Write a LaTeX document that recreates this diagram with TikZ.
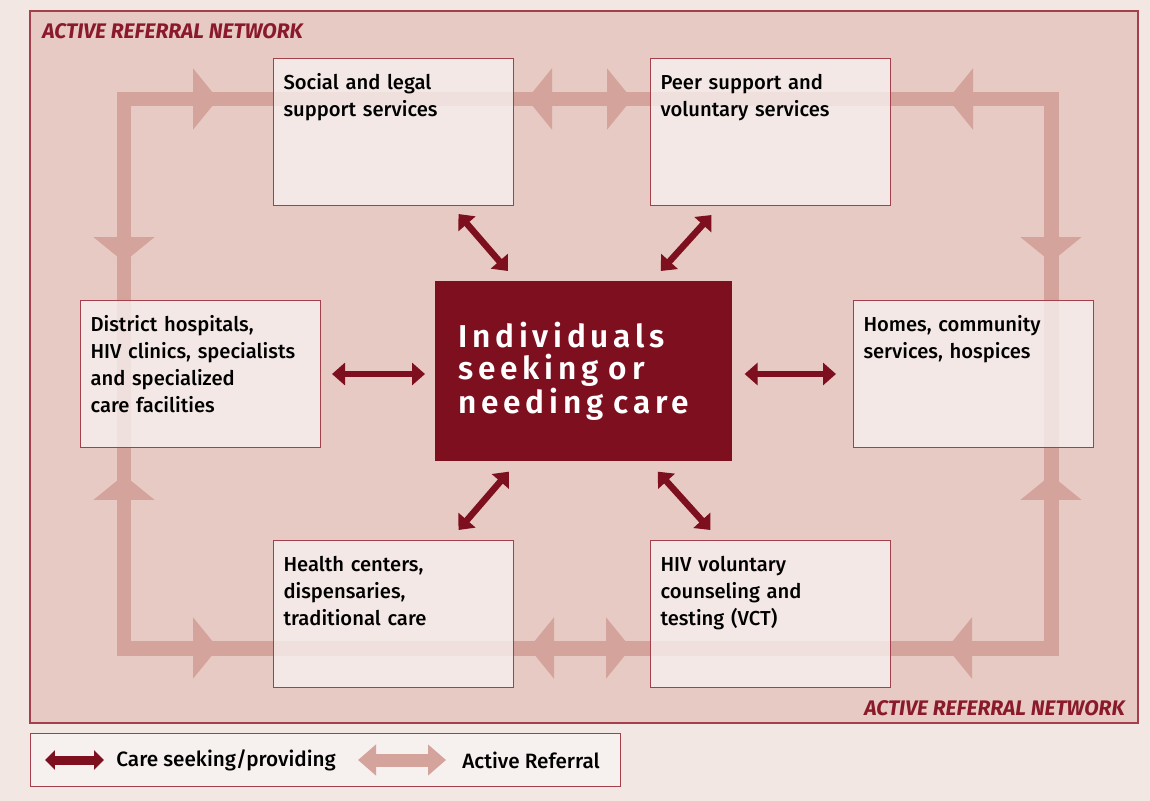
\documentclass[tikz,border=0pt]{standalone}
\usepackage{fontspec}
\setmainfont{Fira Sans Medium}
\newfontfamily\hubfont{Fira Sans SemiBold}[LetterSpace=15, WordSpace=3]
\newfontfamily\tagfont{Fira Sans}
\usepackage{xcolor}
\definecolor{outer-bg}{HTML}{F3E7E4}
\definecolor{inner-bg}{HTML}{E7CAC3}
\definecolor{pale-red}{HTML}{D4A39B}
\definecolor{box-fill}{HTML}{F6F0EE}
\definecolor{box-line}{HTML}{A4404C}
\definecolor{dark-red}{HTML}{7D0F1E}
\definecolor{tag-red}{HTML}{8A1A2B}
\usepackage{tikz}
\usetikzlibrary{arrows.meta}
\usetikzlibrary{calc}
\tikzset{svc/.style = {draw=box-line, line width=0.6pt, fill=box-fill, fill opacity=0.8, text opacity=1, anchor=north west, minimum width=4.8cm, minimum height=2.94cm, text width=4.4cm, align=left, inner xsep=0.2cm, inner ysep=0.24cm, text height=0.38cm, text depth=2.08cm, font=\fontsize{11.5}{15.3}\selectfont}}
\tikzset{hub/.style = {fill=dark-red, text=white, anchor=north west, minimum width=5.94cm, minimum height=3.6cm, text width=5.02cm, align=left, inner xsep=0.46cm, font=\hubfont\fontsize{18}{17.8}\selectfont}}
\tikzset{tag/.style = {text=tag-red, inner sep=0pt, font=\tagfont\bfseries\itshape\fontsize{12}{14}\selectfont}}
\tikzset{legtext/.style = {inner sep=0pt, anchor=west, font=\fontsize{11.8}{14}\selectfont}}
\tikzset{care/.style = {draw=dark-red, line width=0.13cm, <->, >={Triangle[length=0.26cm,width=0.44cm]}}}
\tikzset{refline/.style = {draw=pale-red, line width=0.3cm, line join=miter}}
\tikzset{refhead/.style = {draw=pale-red, line width=0.3cm, -{Triangle[length=0.5cm,width=1.2cm]}}}

\begin{document}
\begin{tikzpicture}[x=0.02cm, y=-0.02cm]

\fill[outer-bg] (0,0) rectangle (1150,801);
\filldraw[fill=inner-bg, draw=box-line, line width=0.7pt] (30,11) rectangle (1138,723);
\node[tag, anchor=west] (t1) at (42,31) {ACTIVE REFERRAL NETWORK};
\node[tag, anchor=east] (t2) at (1125,708) {ACTIVE REFERRAL NETWORK};

% referral loop, heads point at the boxes
\draw[refline] (124,99) rectangle (1051,648);
\foreach \ax/\ay/\bx/\by in {193/99/218/99, 552/99/527/99, 607/99/632/99, 973/99/948/99,
  1051/237/1051/262, 1051/502/1051/475,
  193/648/218/648, 554/648/529/648, 607/648/631/648, 972/648/947/648,
  124/237/124/262, 124/502/124/475}
  \draw[refhead] (\ax,\ay) -- (\bx,\by);

\node[svc] (soc) at (273,58) {Social and legal\\support services};
\node[svc] (peer) at (650,58) {Peer support and\\voluntary services};
\node[svc] (dis) at (80,300) {District hospitals,\\HIV clinics, specialists\\and specialized\\care facilities};
\node[svc] (hom) at (853,300) {Homes, community\\services, hospices};
\node[svc] (hea) at (273,540) {Health centers,\\dispensaries,\\traditional care};
\node[svc] (hiv) at (650,540) {HIV voluntary\\counseling and\\testing (VCT)};
\node[hub] (ctr) at (435,281) {Individuals\\seeking or\\needing care};

\draw[care] ($(soc.south)+(65,8)$) -- ($(ctr.north)+(-76,-10)$);
\draw[care] ($(peer.south)+(-59,9)$) -- ($(ctr.north)+(77,-10)$);
\draw[care, shorten <=0.22cm, shorten >=0.2cm] (dis.east) -- (dis.east -| ctr.west);
\draw[care, shorten <=0.24cm, shorten >=0.34cm] (ctr.east |- hom.west) -- (hom.west);
\draw[care] ($(ctr.south)+(-75,10)$) -- ($(hea.north)+(65,-10)$);
\draw[care] ($(ctr.south)+(74,10)$) -- ($(hiv.north)+(-60,-10)$);

% legend
\node[draw=box-line, line width=0.6pt, fill=box-fill, anchor=north west, minimum width=11.8cm, minimum height=1.06cm] (leg) at (30,733) {};
\node[legtext] (l1) at (116,760) {Care seeking/providing};
\node[legtext] (l2) at (462,760) {Active Referral};
\draw[care, line width=0.18cm, >={Triangle[length=0.2cm,width=0.38cm]}] ($(l1.west)+(-71,0)$) -- ($(l1.west)+(-12,0)$);
\draw[draw=pale-red, line width=0.26cm, <->, >={Triangle[length=0.36cm,width=0.6cm]}] ($(l2.west)+(-104,0)$) -- ($(l2.west)+(-16,0)$);

\end{tikzpicture}
\end{document}
